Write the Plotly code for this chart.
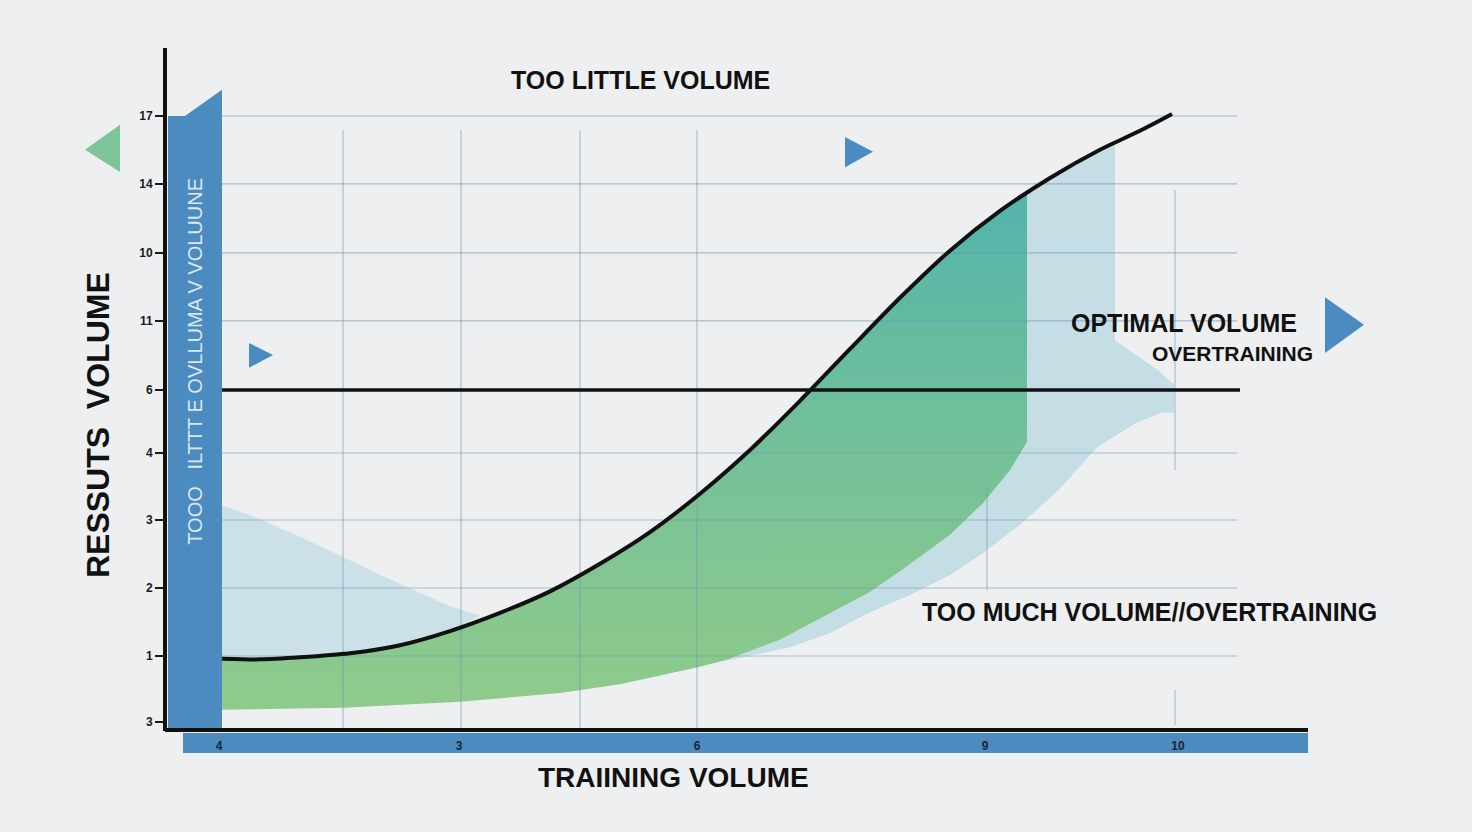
import plotly.graph_objects as go

# ---------------- data ----------------
# y axis: tick positions and the (odd) labels printed on the chart
y_tickvals = [0, 0.98, 1.99, 3.00, 3.995, 4.93, 5.956, 6.966, 7.991, 9.00]
y_ticktext = ["3", "1", "2", "3", "4", "6", "11", "10", "14", "17"]
# x axis: tick positions and labels
x_tickvals = [0.54, 2.94, 5.32, 8.20, 10.13]
x_ticktext = ["4", "3", "6", "9", "10"]

# S-shaped response curve
curve_x = [0.57, 0.95, 1.35, 1.85, 2.35, 2.85, 3.35, 3.85, 4.35, 4.85, 5.35,
           5.85, 6.35, 6.85, 7.35, 7.85, 8.35, 8.85, 9.35, 9.75, 10.07]
curve_y = [0.94, 0.93, 0.96, 1.02, 1.14, 1.35, 1.62, 1.94, 2.35, 2.82, 3.39,
           4.04, 4.77, 5.54, 6.30, 7.00, 7.59, 8.08, 8.50, 8.78, 9.03]

# green band: right edge top and lower boundary (right -> left)
green_edge_x = [8.62]
green_edge_y = [7.86]
green_low_x = [8.62, 8.45, 8.18, 7.85, 7.41, 7.05, 6.65, 6.15, 5.61, 5.35, 4.55, 3.95, 2.95, 1.78, 0.57]
green_low_y = [4.16, 3.74, 3.25, 2.78, 2.30, 1.93, 1.62, 1.22, 0.92, 0.82, 0.56, 0.43, 0.30, 0.21, 0.18]

# light blue band on the left (upper edge, left -> right)
blue_left_x = [0.57, 0.85, 1.35, 1.85, 2.35, 2.85, 3.15]
blue_left_y = [3.22, 3.07, 2.75, 2.40, 2.05, 1.72, 1.58]

# light blue band on the right (outline: top along the curve, shoulder, lower edge)
blue_right_x = [8.62, 8.85, 9.35, 9.50, 9.50, 9.75, 9.95, 10.09, 10.09, 9.98, 9.71,
                9.32, 8.94, 8.55, 8.18, 7.85, 7.41, 7.05, 6.65, 6.25, 5.80, 5.55]
blue_right_y = [7.86, 8.08, 8.50, 8.60, 5.67, 5.41, 5.20, 5.01, 4.59, 4.60, 4.44,
                4.08, 3.45, 2.93, 2.51, 2.18, 1.86, 1.63, 1.32, 1.11, 0.97, 0.89]

# reference (threshold) line
threshold_y = 4.93
threshold_x = [0.57, 10.75]

# grid
grid_y = [0.98, 1.99, 3.00, 3.995, 5.956, 6.966, 7.991, 9.00]
grid_x_span = [0.57, 10.72]
vgrid_x = [1.78, 2.96, 4.15, 5.32]
vgrid_y_span = [-0.09, 8.79]

# ---------------- styles ----------------
BG = "#edeff0"
BLUE = "#4b8bc0"
FONT = "Liberation Sans, Arial, Helvetica, sans-serif"

fig = go.Figure()

# light blue regions
fig.add_trace(go.Scatter(
    x=blue_right_x + green_low_x[8::-1],
    y=blue_right_y + green_low_y[8::-1],
    fill="toself", mode="lines", line=dict(width=0),
    fillcolor="rgba(176,212,224,0.66)", hoverinfo="skip"))
fig.add_trace(go.Scatter(
    x=blue_left_x + curve_x[5::-1],
    y=blue_left_y + curve_y[5::-1],
    fill="toself", mode="lines", line=dict(width=0),
    fillcolor="rgba(184,216,226,0.62)", hoverinfo="skip"))

# green region
fig.add_trace(go.Scatter(
    x=curve_x[:17] + green_edge_x + green_low_x,
    y=curve_y[:17] + green_edge_y + green_low_y,
    fill="toself", mode="lines", line=dict(width=0),
    fillcolor="#7cc394",
    fillgradient=dict(type="vertical",
                      colorscale=[[0, "#8fcb8b"], [0.35, "#7ec494"], [1, "#53b4ab"]]),
    hoverinfo="skip"))

# gridlines
gx, gy = [], []
for yv in grid_y:
    gx += [grid_x_span[0], grid_x_span[1], None]
    gy += [yv, yv, None]
for xv in vgrid_x:
    gx += [xv, xv, None]
    gy += [vgrid_y_span[0], vgrid_y_span[1], None]
# partial vertical grid pieces
gx += [8.22, 8.22, None, 10.10, 10.10, None, 10.10, 10.10, None]
gy += [3.52, 1.96, None, 7.90, 3.74, None, 0.475, -0.045, None]
fig.add_trace(go.Scatter(x=gx, y=gy, mode="lines",
                         line=dict(color="rgba(110,150,178,0.55)", width=1.2),
                         hoverinfo="skip"))

# threshold line
fig.add_trace(go.Scatter(x=threshold_x, y=[threshold_y, threshold_y], mode="lines",
                         line=dict(color="#111111", width=3.5), hoverinfo="skip"))

# main curve
fig.add_trace(go.Scatter(x=curve_x, y=curve_y, mode="lines",
                         line=dict(color="#111111", width=4, shape="spline", smoothing=0.8),
                         hoverinfo="skip"))

shapes = [
    # bottom blue band behind the x tick labels
    dict(type="rect", xref="x", yref="y", x0=0.18, x1=11.43, y0=-0.46, y1=-0.163,
         fillcolor=BLUE, line=dict(width=0), layer="below"),
    # vertical blue bar
    dict(type="path", xref="x", yref="y",
         path="M 0.03,-0.09 L 0.03,9.0 L 0.20,9.0 L 0.57,9.39 L 0.57,-0.09 Z",
         fillcolor=BLUE, line=dict(width=0), layer="above"),
    # axes lines
    dict(type="line", xref="x", yref="y", x0=0, x1=0, y0=10.01, y1=-0.134,
         line=dict(color="#111111", width=4), layer="above"),
    dict(type="line", xref="x", yref="y", x0=0, x1=11.43, y0=-0.119, y1=-0.119,
         line=dict(color="#111111", width=4), layer="above"),
    # triangles
    dict(type="path", xref="x", yref="y",
         path="M -0.45,8.87 L -0.45,8.17 L -0.80,8.50 Z",
         fillcolor="#7ec49b", line=dict(width=0)),
    dict(type="path", xref="x", yref="y",
         path="M 0.84,5.63 L 0.84,5.26 L 1.08,5.45 Z",
         fillcolor=BLUE, line=dict(width=0)),
    dict(type="path", xref="x", yref="y",
         path="M 6.80,8.69 L 6.80,8.24 L 7.08,8.47 Z",
         fillcolor=BLUE, line=dict(width=0)),
    dict(type="path", xref="x", yref="y",
         path="M 11.60,6.31 L 11.60,5.48 L 11.99,5.90 Z",
         fillcolor=BLUE, line=dict(width=0)),
]

annotations = [
    dict(x=4.75, y=9.54, text="<b>TOO LITTLE VOLUME</b>", showarrow=False,
         font=dict(family=FONT, size=25, color="#111111")),
    dict(x=11.34, y=5.93, text="<b>OPTIMAL VOLUME</b>", showarrow=False, xanchor="right",
         font=dict(family=FONT, size=25, color="#111111")),
    dict(x=11.50, y=5.48, text="<b>OVERTRAINING</b>", showarrow=False, xanchor="right",
         font=dict(family=FONT, size=21, color="#111111")),
    dict(x=7.55, y=1.63, text="<b>TOO MUCH VOLUME//OVERTRAINING</b>", showarrow=False,
         xanchor="left", font=dict(family=FONT, size=25, color="#111111")),
    dict(x=0.30, y=5.35, text="TOOO \u00a0 ILTTT E OVLLUMA V VOLUUNE", showarrow=False,
         textangle=-90, font=dict(family=FONT, size=20, color="#dbe7f1")),
    dict(x=-0.67, y=4.41, text="<b>RESSUTS \u00a0VOLUME</b>", showarrow=False,
         textangle=-90, font=dict(family=FONT, size=32, color="#111111")),
    dict(x=5.08, y=-0.83, text="<b>TRAIINING VOLUME</b>", showarrow=False,
         font=dict(family=FONT, size=28, color="#111111")),
]
for a in annotations:
    a.update(xref="x", yref="y")

fig.update_layout(
    width=1472, height=832,
    margin=dict(l=0, r=0, t=0, b=0),
    paper_bgcolor=BG, plot_bgcolor=BG,
    showlegend=False,
    shapes=shapes,
    annotations=annotations,
    xaxis=dict(range=[-1.65, 13.07], anchor="free", position=0.114,
               tickvals=x_tickvals, ticktext=x_ticktext, ticks="",
               tickfont=dict(family=FONT, size=12, color="#1a2633", weight="bold"),
               showgrid=False, zeroline=False, showline=False, fixedrange=True),
    yaxis=dict(range=[-1.634, 10.723], anchor="free", position=0.1121,
               tickvals=y_tickvals, ticktext=y_ticktext, ticks="outside",
               ticklen=10, tickwidth=2, tickcolor="#1a1a1a",
               tickfont=dict(family=FONT, size=12, color="#1a1a1a", weight="bold"),
               showgrid=False, zeroline=False, showline=False, fixedrange=True),
)

fig.write_html("out.html")
